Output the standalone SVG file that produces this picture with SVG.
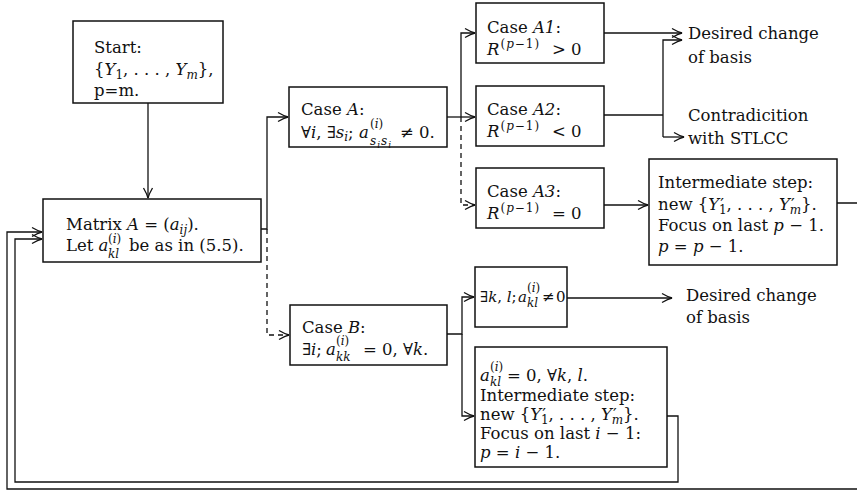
<svg xmlns="http://www.w3.org/2000/svg" width="857" height="493" viewBox="0 0 857 493">
<style>
rect.b{fill:#fff;stroke:#111;stroke-width:1.5}
.t{font-family:"DejaVu Serif","Liberation Serif",serif;font-size:16.5px;fill:#111}
.i{font-style:italic}
.s{font-size:12px}
.ss{font-size:9px}
.c{fill:none;stroke:#111;stroke-width:1.3}
.d{stroke-dasharray:5 4}
</style>
<defs>
<marker id="ah" markerUnits="userSpaceOnUse" markerWidth="14" markerHeight="12" refX="11" refY="6" orient="auto">
<path d="M1,1.5 Q7,5 11,6 Q7,7 1,10.5" fill="none" stroke="#111" stroke-width="1.3"/>
</marker>
</defs>
<rect width="857" height="493" fill="#fff"/>
<g id="connectors">
<path class="c" d="M148,103 V198" marker-end="url(#ah)"/>
<path class="c" d="M261,229 H267 V117 H288" marker-end="url(#ah)"/>
<path class="c d" d="M267,229 V335 H289" marker-end="url(#ah)"/>
<path class="c" d="M447,117 H475" marker-end="url(#ah)"/>
<path class="c" d="M461,117 V33 H475" marker-end="url(#ah)"/>
<path class="c d" d="M461,117 V205 H475" marker-end="url(#ah)"/>
<path class="c" d="M604,33 H682" marker-end="url(#ah)"/>
<path class="c" d="M604,115 H663"/>
<path class="c" d="M663,137 V40 H682" marker-end="url(#ah)"/>
<path class="c" d="M663,137 H684" marker-end="url(#ah)"/>
<path class="c" d="M604,205 H648" marker-end="url(#ah)"/>
<path class="c" d="M837,203 H870 V489 H7 V232 H42" marker-end="url(#ah)"/>
<path class="c" d="M447,334 H462 V297 H474" marker-end="url(#ah)"/>
<path class="c" d="M462,334 V416 H474" marker-end="url(#ah)"/>
<path class="c" d="M567,298 H672" marker-end="url(#ah)"/>
<path class="c" d="M667,416 H678 V482 H15 V239 H42" marker-end="url(#ah)"/>
</g>
<g id="start">
<rect class="b" x="73" y="21" width="150" height="82"/>
<text class="t" x="94" y="53">Start:</text>
<text class="t" x="94" y="75">{<tspan class="i">Y</tspan><tspan class="s" dy="4">1</tspan><tspan dy="-4">, . . . , </tspan><tspan class="i">Y</tspan><tspan class="s i" dy="4">m</tspan><tspan dy="-4">},</tspan></text>
<text class="t" x="94" y="96">p=m.</text>
</g>
<g id="matrix">
<rect class="b" x="43" y="199" width="218" height="63"/>
<text class="t" x="66" y="230">Matrix <tspan class="i">A</tspan> = (<tspan class="i">a</tspan><tspan class="s i" dy="4">ij</tspan><tspan dy="-4">).</tspan></text>
<text class="t" x="66" y="251">Let <tspan class="i">a</tspan></text>
<text class="t s" x="108" y="243">(<tspan class="i">i</tspan>)</text>
<text class="t s i" x="108" y="258">kl</text>
<text class="t" x="129" y="251">be as in (5.5).</text>
</g>
<g id="caseA">
<rect class="b" x="289" y="87" width="158" height="60"/>
<text class="t" x="301" y="115">Case <tspan class="i">A</tspan>:</text>
<text class="t" x="301" y="138">∀<tspan class="i">i</tspan>, ∃<tspan class="i">s</tspan><tspan class="s i" dy="3">i</tspan><tspan dy="-3">;</tspan></text>
<text class="t i" x="359" y="138">a</text>
<text class="t s" x="370" y="128">(<tspan class="i">i</tspan>)</text>
<text class="t s i" x="370" y="145" letter-spacing="1">s<tspan class="ss" dy="3">i</tspan><tspan dy="-3">s</tspan><tspan class="ss" dy="3">i</tspan></text>
<text class="t" x="400" y="138">≠ 0.</text>
</g>
<g id="caseA1">
<rect class="b" x="476" y="3" width="128" height="60"/>
<text class="t" x="487" y="33">Case <tspan class="i">A1</tspan>:</text>
<text class="t" x="487" y="55"><tspan class="i">R</tspan><tspan class="s" dx="1" dy="-7" letter-spacing="1">(<tspan class="i">p</tspan>−1)</tspan></text>
<text class="t" x="552" y="55">&gt; 0</text>
</g>
<g id="caseA2">
<rect class="b" x="476" y="86" width="128" height="60"/>
<text class="t" x="487" y="115">Case <tspan class="i">A2</tspan>:</text>
<text class="t" x="487" y="137"><tspan class="i">R</tspan><tspan class="s" dx="1" dy="-7" letter-spacing="1">(<tspan class="i">p</tspan>−1)</tspan></text>
<text class="t" x="552" y="137">&lt; 0</text>
</g>
<g id="caseA3">
<rect class="b" x="476" y="168" width="128" height="60"/>
<text class="t" x="487" y="197">Case <tspan class="i">A3</tspan>:</text>
<text class="t" x="487" y="219"><tspan class="i">R</tspan><tspan class="s" dx="1" dy="-7" letter-spacing="1">(<tspan class="i">p</tspan>−1)</tspan></text>
<text class="t" x="552" y="219">= 0</text>
</g>
<g id="desired1">
<text class="t" x="688" y="39">Desired change</text>
<text class="t" x="688" y="63">of basis</text>
</g>
<g id="contradiction">
<text class="t" x="688" y="121">Contradicition</text>
<text class="t" x="688" y="144">with STLCC</text>
</g>
<g id="intermediateA3">
<rect class="b" x="649" y="159" width="188" height="106"/>
<text class="t" x="658" y="188">Intermediate step:</text>
<text class="t" x="658" y="210">new {<tspan class="i">Y</tspan><tspan dx="1">′</tspan><tspan class="s" dx="-5" dy="4">1</tspan><tspan dy="-4">, . . . , </tspan><tspan class="i">Y</tspan><tspan dx="1">′</tspan><tspan class="s i" dx="-5" dy="4">m</tspan><tspan dy="-4">}.</tspan></text>
<text class="t" x="658" y="231">Focus on last <tspan class="i">p</tspan> − 1.</text>
<text class="t" x="658" y="252"><tspan class="i">p</tspan> = <tspan class="i">p</tspan> − 1.</text>
</g>
<g id="caseB">
<rect class="b" x="290" y="305" width="157" height="60"/>
<text class="t" x="302" y="333">Case <tspan class="i">B</tspan>:</text>
<text class="t" x="302" y="355">∃<tspan class="i">i</tspan>;</text>
<text class="t i" x="326" y="355">a</text>
<text class="t s" x="336" y="345">(<tspan class="i">i</tspan>)</text>
<text class="t s i" x="336" y="361">kk</text>
<text class="t" x="363" y="355">= 0, ∀<tspan class="i">k</tspan>.</text>
</g>
<g id="nonzero">
<rect class="b" x="475" y="267" width="92" height="60"/>
<text class="t" x="480" y="302" style="font-size:15px">∃<tspan class="i">k</tspan>, <tspan class="i">l</tspan>;</text>
<text class="t i" x="518" y="302" style="font-size:15px">a</text>
<text class="t s" x="527" y="292">(<tspan class="i">i</tspan>)</text>
<text class="t s i" x="527" y="307">kl</text>
<text class="t" x="542" y="302" style="font-size:15px">≠</text>
<text class="t" x="556" y="302" style="font-size:15px">0</text>
</g>
<g id="desired2">
<text class="t" x="686" y="301">Desired change</text>
<text class="t" x="686" y="323">of basis</text>
</g>
<g id="intermediateB">
<rect class="b" x="475" y="347" width="192" height="120"/>
<text class="t i" x="480" y="381">a</text>
<text class="t s" x="490" y="371">(<tspan class="i">i</tspan>)</text>
<text class="t s i" x="490" y="386">kl</text>
<text class="t" x="507" y="381">= 0, ∀<tspan class="i">k</tspan>, <tspan class="i">l</tspan>.</text>
<text class="t" x="480" y="401">Intermediate step:</text>
<text class="t" x="480" y="420">new {<tspan class="i">Y</tspan><tspan dx="1">′</tspan><tspan class="s" dx="-5" dy="4">1</tspan><tspan dy="-4">, . . . , </tspan><tspan class="i">Y</tspan><tspan dx="1">′</tspan><tspan class="s i" dx="-5" dy="4">m</tspan><tspan dy="-4">}.</tspan></text>
<text class="t" x="480" y="439">Focus on last <tspan class="i">i</tspan> − 1:</text>
<text class="t" x="480" y="458"><tspan class="i">p</tspan> = <tspan class="i">i</tspan> − 1.</text>
</g>
</svg>
